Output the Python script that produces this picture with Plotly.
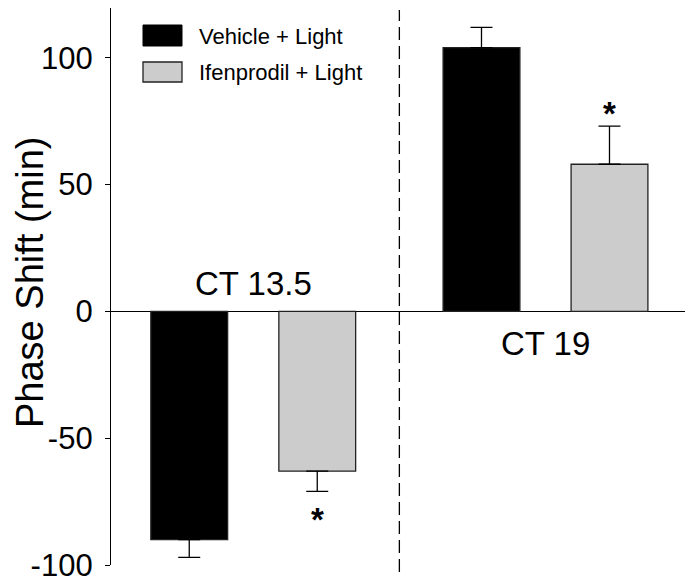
import plotly.graph_objects as go

groups = ["CT 13.5", "CT 19"]
series_names = ["Vehicle + Light", "Ifenprodil + Light"]
vehicle = [-90, 104]
vehicle_err = [7, 8]
ifenprodil = [-63, 58]
ifenprodil_err = [8, 15]
y_ticks = [-100, -50, 0, 50, 100]
y_title = "Phase Shift (min)"

FONT = "Liberation Sans, Arial, sans-serif"
colors = ["#000000", "#cccccc"]

# page has an 8px body margin; figure is sized/margined to compensate
W, H = 685, 576
L, R, T, B = 103, 6, 0, 19
PW, PH = W - L - R, H - T - B

def px_x(px):  # reference pixel -> paper x
    return (px - 8 - L) / PW

def px_y(py):  # reference pixel -> paper y
    return (H - B - (py - 8)) / PH

def err_dict(vals, errs):
    up = [e if v >= 0 else 0 for v, e in zip(vals, errs)]
    dn = [e if v < 0 else 0 for v, e in zip(vals, errs)]
    return dict(type="data", symmetric=False, array=up, arrayminus=dn,
                color="#000000", thickness=1.3, width=11)

fig = go.Figure()
for name, vals, errs, c in [(series_names[0], vehicle, vehicle_err, colors[0]),
                            (series_names[1], ifenprodil, ifenprodil_err, colors[1])]:
    fig.add_trace(go.Bar(
        x=groups, y=vals, name=name, marker=dict(color=c, line=dict(color="#222222", width=1.3)),
        error_y=err_dict(vals, errs), showlegend=False))

bargap = 0.124
offset = (1 - bargap) / 4  # center offset of each bar within group

shapes = []
# dashed separator
shapes.append(dict(type="line", xref="x", yref="paper", x0=0.5, x1=0.5, y0=px_y(572), y1=px_y(10),
                   line=dict(color="#000000", width=1.3, dash="13px,6px")))
# custom legend boxes
shapes.append(dict(type="rect", xref="paper", yref="paper", x0=px_x(143), x1=px_x(182),
                   y0=px_y(46), y1=px_y(25), fillcolor=colors[0], line=dict(color="#000000", width=1)))
shapes.append(dict(type="rect", xref="paper", yref="paper", x0=px_x(143), x1=px_x(182),
                   y0=px_y(82), y1=px_y(62), fillcolor=colors[1], line=dict(color="#222222", width=1.3)))

annotations = []
annotations.append(dict(xref="paper", yref="paper", x=px_x(197), y=px_y(36), xanchor="left",
                        yanchor="middle", text=series_names[0], showarrow=False,
                        font=dict(family=FONT, size=22, color="#000")))
annotations.append(dict(xref="paper", yref="paper", x=px_x(197), y=px_y(72), xanchor="left",
                        yanchor="middle", text=series_names[1], showarrow=False,
                        font=dict(family=FONT, size=22, color="#000")))
annotations.append(dict(xref="x", yref="y", x=0, y=11, text=groups[0], showarrow=False,
                        xanchor="center", yanchor="middle", font=dict(family=FONT, size=33, color="#000")))
annotations.append(dict(xref="x", yref="y", x=1, y=-12.5, text=groups[1], showarrow=False,
                        xanchor="center", yanchor="middle", font=dict(family=FONT, size=33, color="#000")))
# significance asterisks
annotations.append(dict(xref="x", yref="y", x=0 + offset, y=-82, text="<b>*</b>", showarrow=False,
                        xanchor="center", yanchor="middle", font=dict(family=FONT, size=33, color="#000")))
annotations.append(dict(xref="x", yref="y", x=1 + offset, y=78, text="<b>*</b>", showarrow=False,
                        xanchor="center", yanchor="middle", font=dict(family=FONT, size=33, color="#000")))
# y-axis title (as rotated annotation for exact placement)
annotations.append(dict(xref="paper", yref="paper", x=px_x(30), y=px_y(283), text=y_title,
                        textangle=-90, showarrow=False, xanchor="center", yanchor="middle",
                        borderpad=0, font=dict(family=FONT, size=38, color="#000")))

fig.update_layout(
    width=W, height=H,
    margin=dict(l=L, r=R, t=T, b=B, pad=0, autoexpand=False),
    paper_bgcolor="white", plot_bgcolor="white",
    barmode="group", bargap=bargap, bargroupgap=0.4,
    shapes=shapes, annotations=annotations,
    font=dict(family=FONT, color="#000"),
    xaxis=dict(type="category", range=[-0.4867, 1.4842], visible=False, showgrid=False,
               automargin=False),
    yaxis=dict(range=[-100, 119.6], tickvals=y_ticks, ticktext=[str(t) for t in y_ticks],
               automargin=False,
               showgrid=False, zeroline=True, zerolinecolor="#000", zerolinewidth=1.3,
               showline=True, linecolor="#000", linewidth=1.3, ticks="outside", ticklen=5,
               tickcolor="#000", tickwidth=1.3, ticklabelstandoff=6,
               tickfont=dict(family=FONT, size=31, color="#000")),
)

fig.write_html("out.html")
